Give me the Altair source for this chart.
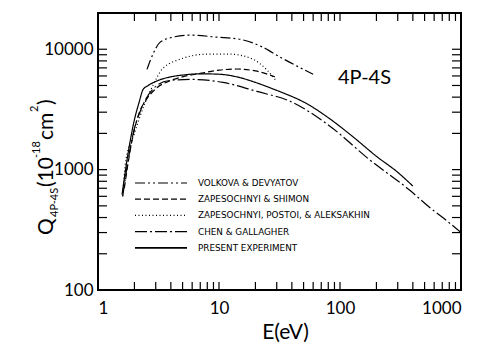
import altair as alt
import pandas as pd

series = [
    "VOLKOVA & DEVYATOV",
    "ZAPESOCHNYI & SHIMON",
    "ZAPESOCHNYI, POSTOI, & ALEKSAKHIN",
    "CHEN & GALLAGHER",
    "PRESENT EXPERIMENT",
]

volkova_E = [2.54, 2.9, 3.25, 4.17, 5.76, 9.6, 14.9, 23, 32, 60]
volkova_Q = [6800, 9500, 11400, 12600, 13100, 12600, 12100, 10400, 8600, 6200]

shimon_E = [1.65, 1.9, 2.2, 2.5, 3, 4, 5, 7, 10, 14, 20, 29]
shimon_Q = [700, 1700, 3000, 3800, 4700, 5500, 5900, 6300, 6700, 6850, 6600, 5900]

postoi_E = [1.6, 1.7, 2.0, 2.45, 2.9, 3.38, 4.76, 7.96, 12.3, 19.1, 25, 30]
postoi_Q = [600, 1200, 2000, 3600, 5200, 6800, 8250, 9100, 9100, 8250, 6700, 5400]

chen_E = [1.6, 1.8, 2.0, 2.22, 2.5, 3.07, 3.9, 5.8, 10.8, 20.6, 38.6, 80, 177, 380, 555, 711, 1000]
chen_Q = [600, 1300, 2200, 3000, 3900, 5000, 5500, 5620, 5300, 4460, 3700, 2350, 1200, 670, 482, 398, 300]

present_E = [1.58, 1.8, 2.0, 2.2, 2.35, 2.6, 3, 4, 5, 7, 10, 15, 20, 30, 40, 50, 80, 130, 200, 300, 400]
present_Q = [620, 1500, 2600, 3700, 4600, 5000, 5400, 5900, 6100, 6250, 6200, 5800, 5300, 4550, 4050, 3650, 2700, 1850, 1290, 950, 730]

x_tick_values = [2, 3, 4, 5, 6, 7, 8, 9, 10, 20, 30, 40, 50, 60, 70, 80, 90, 100,
                 200, 300, 400, 500, 600, 700, 800, 900]
y_tick_values = [200, 300, 400, 500, 600, 700, 800, 900, 1000,
                 2000, 3000, 4000, 5000, 6000, 7000, 8000, 9000, 10000]

dash_range = [[10, 3, 2, 3, 2, 3], [6, 3], [1, 2.5], [12, 3, 2, 3], [1, 0]]
width_range = [1.2, 1.2, 1.2, 1.2, 1.8]

rows = []
for name, es, qs in zip(series,
                        [volkova_E, shimon_E, postoi_E, chen_E, present_E],
                        [volkova_Q, shimon_Q, postoi_Q, chen_Q, present_Q]):
    for e, q in zip(es, qs):
        rows.append({"series": name, "E": e, "Q": q})
df = pd.DataFrame(rows)

W, H = 363, 277
FONT = "Lato"
x_scale = alt.Scale(type="log", domain=[1, 1000])
y_scale = alt.Scale(type="log", domain=[100, 20000])

lines = alt.Chart(df).mark_line(color="black", clip=True, interpolate="monotone").encode(
    x=alt.X("E:Q", scale=x_scale,
            axis=alt.Axis(values=[1, 10, 100, 1000], format="d", ticks=False, domain=False,
                          grid=False, labelFontSize=17, labelFont=FONT, labelColor="black",
                          labelPadding=10, title="E(eV)", titleFont=FONT, titleFontSize=21,
                          titleFontWeight="normal", titleColor="black", titlePadding=5,
                          titleX=187)),
    y=alt.Y("Q:Q", scale=y_scale,
            axis=alt.Axis(values=[100, 1000, 10000], format="d", ticks=False, domain=False,
                          grid=False, labelFontSize=17, labelFont=FONT, labelColor="black",
                          labelPadding=5, title=None)),
    strokeDash=alt.StrokeDash("series:N", scale=alt.Scale(domain=series, range=dash_range), legend=None),
    strokeWidth=alt.StrokeWidth("series:N", scale=alt.Scale(domain=series, range=width_range), legend=None),
    detail="series:N",
)

xt = pd.DataFrame({"E": x_tick_values})
yt = pd.DataFrame({"Q": y_tick_values})
tick_style = dict(color="black", strokeWidth=1.2)
bottom_ticks = alt.Chart(xt).mark_rule(**tick_style).encode(
    x=alt.X("E:Q", scale=x_scale), y=alt.value(H), y2=alt.value(H - 8))
top_ticks = alt.Chart(xt).mark_rule(**tick_style).encode(
    x=alt.X("E:Q", scale=x_scale), y=alt.value(0), y2=alt.value(8))
left_ticks = alt.Chart(yt).mark_rule(**tick_style).encode(
    y=alt.Y("Q:Q", scale=y_scale), x=alt.value(0), x2=alt.value(9))
right_ticks = alt.Chart(yt).mark_rule(**tick_style).encode(
    y=alt.Y("Q:Q", scale=y_scale), x=alt.value(W), x2=alt.value(W - 9))

legend_layers = []
for i, name in enumerate(series):
    yy = 170 + 16.2 * i
    legend_layers.append(
        alt.Chart(pd.DataFrame({"s": [name]})).mark_rule(
            color="black", strokeWidth=width_range[i], strokeDash=dash_range[i]
        ).encode(x=alt.value(37), x2=alt.value(89), y=alt.value(yy))
    )
    legend_layers.append(
        alt.Chart(pd.DataFrame({"s": [name]})).mark_text(
            align="left", baseline="middle", font="DejaVu Sans", fontSize=8.8, color="black"
        ).encode(text="s:N", x=alt.value(100), y=alt.value(yy))
    )

label = alt.Chart(pd.DataFrame({"t": ["4P-4S"]})).mark_text(
    align="left", baseline="middle", font=FONT, fontSize=20, color="black"
).encode(text="t:N", x=alt.value(240), y=alt.value(65))

# rotated y-axis title with subscript / superscripts
title_parts = [
    ("Q", -45, 222, 21),
    ("4P-4S", -40, 204, 11),
    ("(10", -45, 174, 21),
    ("-18", -58, 145, 11),
    ("cm", -45, 127, 21),
    ("2", -60, 99, 11),
    (")", -45, 92, 21),
]
title_layers = []
for t, xx, yy, fs in title_parts:
    title_layers.append(
        alt.Chart(pd.DataFrame({"t": [t]})).mark_text(
            align="left", baseline="alphabetic", angle=270, font=FONT, fontSize=fs, color="black"
        ).encode(text="t:N", x=alt.value(xx), y=alt.value(yy))
    )

chart = alt.layer(
    lines, bottom_ticks, top_ticks, left_ticks, right_ticks, label,
    *legend_layers, *title_layers
).properties(
    width=W, height=H,
    autosize=alt.AutoSizeParams(type="none"),
    padding={"left": 98, "top": 13, "right": 21, "bottom": 53},
    background="white",
).configure_view(stroke="black", strokeWidth=2)

chart.save("out.html", embed_options={"renderer": "svg", "actions": False})
